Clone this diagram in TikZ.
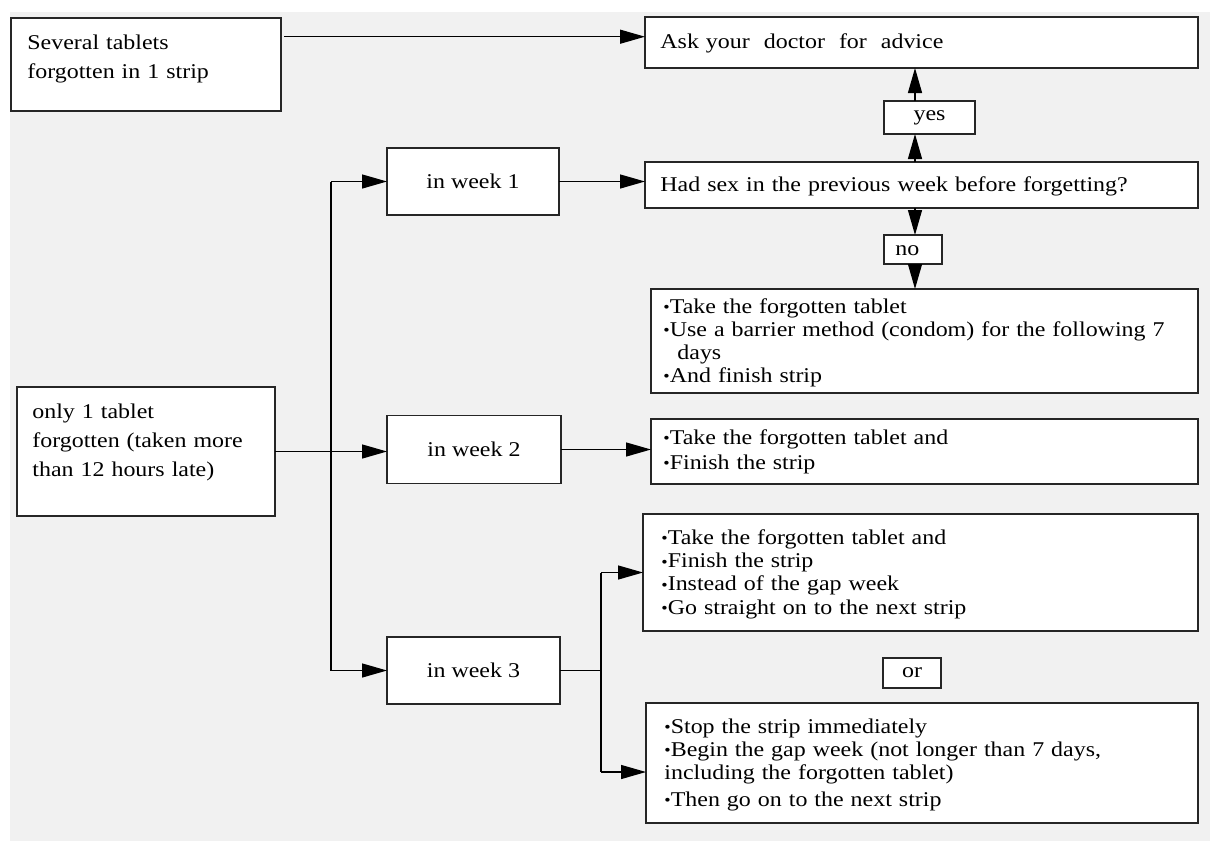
\documentclass[tikz,border=0pt]{standalone}
\usepackage{fontspec}
\setmainfont{Liberation Serif}[FakeStretch=1.14]
\usetikzlibrary{arrows.meta}
\definecolor{bggray}{HTML}{F1F1F1}
\newcommand\bul{\raisebox{0.2pt}{\footnotesize\textbullet}}

\begin{document}
\begin{tikzpicture}[x=0.5pt,y=-0.5pt,
  font=\fontsize{10.5}{12}\selectfont,
  box/.style={draw=black!85,line width=0.75pt,fill=white,inner sep=0pt,outer sep=0pt},
  txt/.style={anchor=base west,inner sep=0pt,text width=280pt,align=left},
  arr/.style={-{Triangle[length=12.5pt,width=7pt]},line width=0.65pt},
  line/.style={line width=0.65pt}]
\useasboundingbox (0,0) rectangle (1210,841);
\fill[bggray] (10,12) rectangle (1210,841);

% left column
\node[box,minimum width=135pt,minimum height=46.5pt] (several) at (146,64.5) {};
\node[txt,font=\fontsize{10.5}{14.5}\selectfont] (severaltxt) at (27,49) {Several tablets\\forgotten in 1 strip};
\node[box,minimum width=129pt,minimum height=64.5pt] (only1) at (146,451.5) {};
\node[txt,font=\fontsize{10.5}{14.5}\selectfont] (only1txt) at (32,418) {only 1 tablet\\forgotten (taken more\\than 12 hours late)};

% weeks
\node[box,minimum width=86pt,minimum height=33.5pt] (week1) at (473,181.5) {in week 1};
\node[box,minimum width=87pt,minimum height=34pt] (week2) at (474,449.5) {in week 2};
\node[box,minimum width=86.5pt,minimum height=33.5pt] (week3) at (473.5,670.5) {in week 3};

% right column
\node[box,minimum width=276.5pt,minimum height=25.5pt] (ask) at (921.5,42.5) {};
\node[txt] (asktxt) at (660,48) {Ask your~ doctor~ for~ advice};
\node[box,minimum width=45.5pt,minimum height=16.5pt] (yes) at (929.5,117.5) {yes};
\node[box,minimum width=276.5pt,minimum height=23pt] (hadsex) at (921.5,185) {};
\node[txt] (hadsextxt) at (660,191) {Had sex in the previous week before forgetting?};
\node[box,minimum width=29pt,minimum height=14.5pt] (no) at (913,249.5) {};
\node[txt] (notxt) at (895,255) {no};
\node[box,minimum width=273.5pt,minimum height=52pt] (w1res) at (924.5,341) {};
\node[txt,font=\fontsize{10.5}{11.5}\selectfont] (w1restxt) at (663,313)
  {\bul Take the forgotten tablet\\\bul Use a barrier method (condom) for the following 7\\\hspace*{7pt}days\\\bul And finish strip};
\node[box,minimum width=273.5pt,minimum height=32.5pt] (w2res) at (924.5,451.5) {};
\node[txt,font=\fontsize{10.5}{12.5}\selectfont] (w2restxt) at (663,444)
  {\bul Take the forgotten tablet and\\\bul Finish the strip};
\node[box,minimum width=277.5pt,minimum height=58.5pt] (w3opt1) at (920.5,572.5) {};
\node[txt,font=\fontsize{10.5}{11.7}\selectfont] (w3opt1txt) at (661,544)
  {\bul Take the forgotten tablet and\\\bul Finish the strip\\\bul Instead of the gap week\\\bul Go straight on to the next strip};
\node[box,minimum width=29pt,minimum height=15pt] (or) at (912,673) {or};
\node[box,minimum width=276pt,minimum height=60pt] (w3opt2) at (922,763) {};
\node[txt,font=\fontsize{10.5}{11.5}\selectfont] (w3opt2txt) at (664,733)
  {\bul Stop the strip immediately\\\bul Begin the gap week (not longer than 7 days,\\including the forgotten tablet)\\[2pt]\bul Then go on to the next strip};

% helper coordinates
\coordinate (trunk) at (331,0);
\coordinate (fork) at (601,0);
\coordinate (vx) at (915,0);
\coordinate (sevout) at ([xshift=1.5pt,yshift=-9.35pt]several.north east);
\coordinate (optlow) at ([yshift=-4.5pt]w3opt2.west);

% connectors
\draw[arr] (sevout) -- (sevout -| ask.west);
\draw[arr] (hadsex.north -| vx) -- (yes.south -| vx);
\draw[arr] (yes.north -| vx) -- (ask.south -| vx);
\draw[arr] (hadsex.south -| vx) -- (no.north -| vx);
\draw[arr] (no.south -| vx) -- (w1res.north -| vx);
\draw[line] (trunk |- week1) -- (trunk |- week3);
\draw[arr] (trunk |- week1) -- (week1);
\draw[arr] (only1) -- (only1 -| week2.west);
\draw[arr] (trunk |- week3) -- (week3);
\draw[arr] (week1) -- (week1 -| hadsex.west);
\draw[arr] (week2) -- (week2 -| w2res.west);
\draw[line] (week3.east) -- (fork |- week3);
\draw[line] (fork |- w3opt1) -- (fork |- optlow);
\draw[arr] (fork |- w3opt1) -- (w3opt1);
\draw[arr] (fork |- optlow) -- (optlow);
\end{tikzpicture}
\end{document}
